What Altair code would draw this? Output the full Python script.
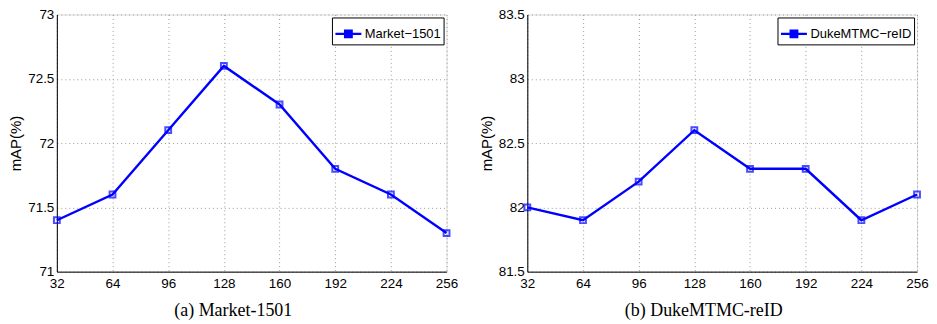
import altair as alt
import pandas as pd

dims = [32, 64, 96, 128, 160, 192, 224, 256]
market_map = [71.4, 71.6, 72.1, 72.6, 72.3, 71.8, 71.6, 71.3]
duke_map = [82.0, 81.9, 82.2, 82.6, 82.3, 82.3, 81.9, 82.1]

panels = [
    ("Market\u22121501", market_map, [71, 73], [71, 71.5, 72, 72.5, 73], "(a) Market-1501"),
    ("DukeMTMC\u2212reID", duke_map, [81.5, 83.5], [81.5, 82, 82.5, 83, 83.5], "(b) DukeMTMC-reID"),
]

BLUE = "#0000ff"
SANS = "Liberation Sans"
SERIF = "Liberation Serif"


def make_panel(name, vals, ydom, yticks, caption):
    df = pd.DataFrame({"dim": dims, "map": vals, "series": [name] * len(dims)})
    x = alt.X("dim:Q", scale=alt.Scale(domain=[32, 256], nice=False, zero=False),
              axis=alt.Axis(values=dims, title=None, labelFont=SANS, labelFontSize=13.5,
                            labelColor="#000", grid=True, gridColor="#9a9a9a",
                            gridDash=[1, 3], gridWidth=1, domainColor="#000",
                            domainWidth=1, ticks=False, labelPadding=5,
                            labelFlush=False, labelOverlap=False))
    y = alt.Y("map:Q", scale=alt.Scale(domain=ydom, nice=False, zero=False),
              axis=alt.Axis(values=yticks, format="~g", title="mAP(%)", titleFont=SANS,
                            titleFontSize=15, titleFontWeight="normal", titleColor="#000",
                            labelFont=SANS, labelFontSize=13.5, labelColor="#000",
                            grid=True, gridColor="#9a9a9a", gridDash=[1, 3], gridWidth=1,
                            domainColor="#000", domainWidth=1, ticks=False,
                            labelPadding=3, titlePadding=4, labelFlush=False,
                            labelOverlap=False))
    line = alt.Chart(df).mark_line(strokeWidth=2.4).encode(
        x=x, y=y,
        color=alt.Color("series:N", scale=alt.Scale(domain=[name], range=[BLUE]),
                        legend=alt.Legend(
                            title=None, orient="top-right", offset=3,
                            labelFont=SANS, labelFontSize=13, labelColor="#000",
                            strokeColor="#000", fillColor="#fff", padding=2,
                            symbolType="M-1,0H1M-0.25,-0.25H0.25V0.25H-0.25Z",
                            symbolSize=676, symbolStrokeWidth=2.4,
                            symbolFillColor=BLUE, symbolStrokeColor=BLUE,
                            labelOffset=2, rowPadding=0)),
    )
    pts = alt.Chart(df).mark_point(shape="square", filled=False, size=34,
                                   strokeWidth=2, color=BLUE).encode(x=x, y=y)
    return alt.layer(line, pts).properties(
        width=391, height=258,
        title=alt.TitleParams(caption, orient="bottom", font=SERIF, fontSize=18,
                              fontWeight="normal", color="#000", offset=12,
                              anchor="middle", frame="bounds"),
    )


charts = [make_panel(*p) for p in panels]
chart = alt.hconcat(*charts, spacing=20).resolve_scale(color="independent").resolve_legend(
    color="independent"
).configure_view(stroke="#000", strokeWidth=1).configure(
    padding={"top": -2, "left": 0, "right": 0, "bottom": 0}, background="#fff")

chart.save("out.html", embed_options={"renderer": "svg", "actions": False})
